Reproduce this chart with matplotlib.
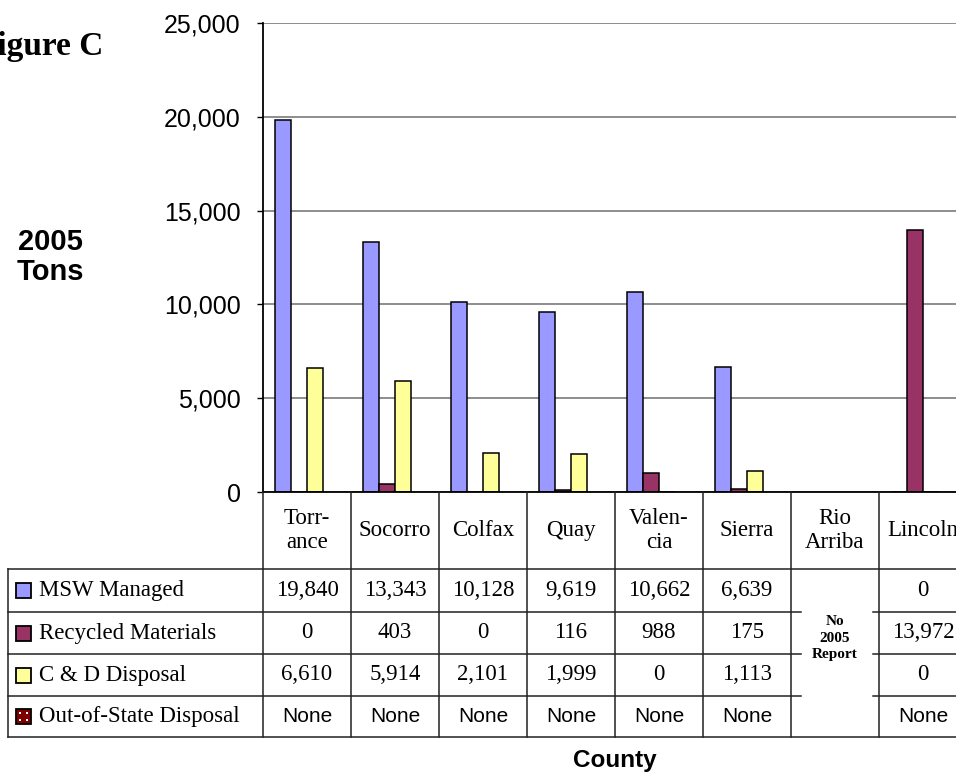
import numpy as np
import matplotlib.pyplot as plt
from matplotlib.patches import Rectangle

plt.rcParams['font.family'] = 'Liberation Serif'

# county columns and tonnage per category
counties = ["Torr-\nance", "Socorro", "Colfax", "Quay", "Valen-\ncia", "Sierra", "Rio\nArriba", "Lincoln"]
msw_managed = [19840, 13343, 10128, 9619, 10662, 6639, None, 0]
recycled = [0, 403, 0, 116, 988, 175, None, 13972]
cd_disposal = [6610, 5914, 2101, 1999, 0, 1113, None, 0]
out_of_state = ["None", "None", "None", "None", "None", "None", None, "None"]

series_names = ["MSW Managed", "Recycled Materials", "C & D Disposal", "Out-of-State Disposal"]
series_colors = ["#9999ff", "#993366", "#ffff99", "#800000"]
y_ticks = [0, 5000, 10000, 15000, 20000, 25000]

W, H = 956, 773


def box(left, top, right, bottom):
    return [left / W, 1 - bottom / H, (right - left) / W, (bottom - top) / H]


fig = plt.figure(figsize=(W / 100, H / 100), dpi=100)

# ---- bar chart ----
ax = fig.add_axes(box(263, 23, 967, 492))
x = np.arange(len(counties)) + 0.5
bw = 1 / 5.5
numeric = [msw_managed, recycled, cd_disposal]
for k, vals in enumerate(numeric):
    v = np.array([np.nan if a is None else a for a in vals], dtype=float)
    ax.bar(x + (k - 1.5) * bw, v, bw, color=series_colors[k],
           edgecolor="black", linewidth=1.1, zorder=3)

ax.set_xlim(0, len(counties))
ax.set_ylim(0, 25000)
ax.set_yticks(y_ticks)
ax.yaxis.set_major_formatter(lambda v, p: f"{v:,.0f}")
ax.set_xticks([])
ax.tick_params(axis="y", labelsize=18, length=4, width=1, pad=12,
               labelfontfamily="Liberation Sans")
ax.grid(axis="y", color="#7a7a7a", linewidth=1.2, zorder=0)
for s in ["top", "right"]:
    ax.spines[s].set_visible(False)
for s in ["left", "bottom"]:
    ax.spines[s].set_color("black")
    ax.spines[s].set_linewidth(1.3)
    ax.spines[s].set_zorder(4)

# ---- data table under the chart ----
tb = fig.add_axes(box(263, 492, 967, 737))
tb.set_xlim(0, len(counties))
tb.set_ylim(245, 0)
tb.axis("off")

rows = [0, 77, 120, 162, 204, 245]
xl = (8 - 263) / 88
lc = "#222222"
lw = 1.1
line = dict(color=lc, linewidth=lw, clip_on=False)

tb.plot([xl, 8], [rows[1], rows[1]], **line)
tb.plot([xl, 8], [rows[5], rows[5]], **line)
# inner row lines stop short inside the merged Rio Arriba cell
for r in rows[2:5]:
    tb.plot([xl, 6 + 10 / 88], [r, r], **line)
    tb.plot([7 - 6 / 88, 8], [r, r], **line)
tb.plot([xl, xl], [rows[1], rows[5]], **line)
for j in range(len(counties) + 1):
    tb.plot([j, j], [0, rows[5]], **line)

for j, name in enumerate(counties):
    tb.text(j + 0.5, (rows[0] + rows[1]) / 2, name, ha="center", va="center",
            fontsize=16.5, linespacing=1.25, clip_on=False)

for i, vals in enumerate(numeric):
    yc = (rows[i + 1] + rows[i + 2]) / 2
    for j, v in enumerate(vals):
        if v is None:
            continue
        tb.text(j + 0.5, yc, f"{v:,}", ha="center", va="center", fontsize=16.5)

yc = (rows[4] + rows[5]) / 2
for j, v in enumerate(out_of_state):
    if v is None:
        continue
    tb.text(j + 0.5, yc, v, ha="center", va="center", fontsize=15,
            family="Liberation Sans")

tb.text(6.5, 146, "No\n2005\nReport", ha="center", va="center",
        fontsize=11, fontweight="bold", linespacing=1.35)

# row headers with colour keys
sq_x = (24 - 263) / 88
for i, (name, col) in enumerate(zip(series_names, series_colors)):
    yc = (rows[i + 1] + rows[i + 2]) / 2
    tb.add_patch(Rectangle((sq_x - 7.5 / 88, yc - 7.5), 15 / 88, 15,
                           facecolor=col, edgecolor="black", linewidth=1.3,
                           clip_on=False))
    if i == 3:
        tb.scatter([sq_x - 3.5 / 88, sq_x + 3.5 / 88] * 2,
                   [yc - 3.5, yc - 3.5, yc + 3.5, yc + 3.5],
                   s=2, color="white", marker="s", linewidths=0, clip_on=False, zorder=5)
    tb.text((39 - 263) / 88, yc, name, ha="left", va="center", fontsize=16.5,
            clip_on=False)

# ---- labels ----
fig.text(103 / W, 1 - 55 / H, "Figure C", ha="right", va="baseline",
         fontsize=24, fontweight="bold")
fig.text(50 / W, 1 - 257 / H, "2005\nTons", ha="center", va="center",
         fontsize=21, fontweight="bold", family="Liberation Sans", linespacing=1.1)
fig.text(615 / W, 1 - 760 / H, "County", ha="center", va="center",
         fontsize=17.5, fontweight="bold", family="Liberation Sans")

fig.savefig("out.png", dpi=100)
